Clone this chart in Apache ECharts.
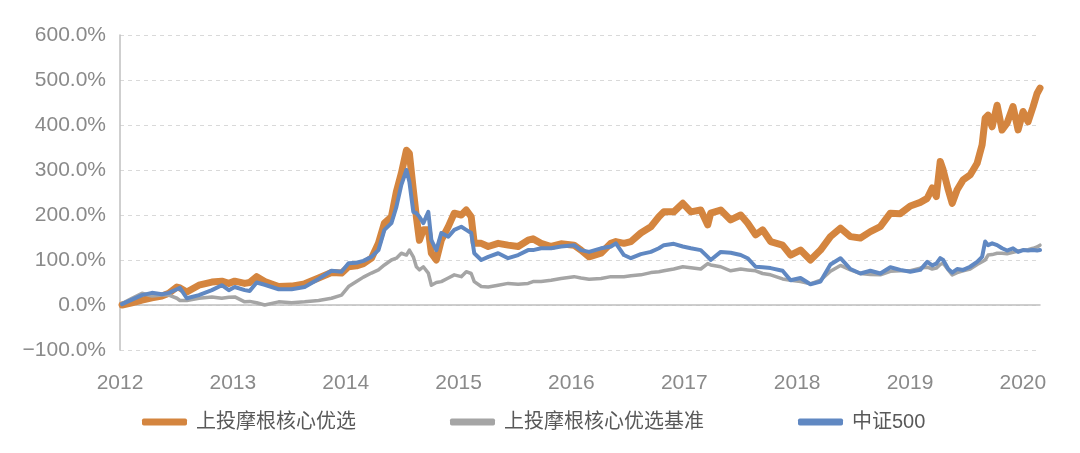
<!DOCTYPE html>
<html>
<head>
<meta charset="utf-8">
<script src="https://cdn.jsdelivr.net/npm/echarts@6/dist/echarts.min.js"></script>
<style>
html,body{margin:0;padding:0;background:#fff;}
#chart{width:1080px;height:453px;}
</style>
</head>
<body>
<div id="chart"></div>
<script>
// decimal years
const dates = [2012.018,2012.106,2012.195,2012.283,2012.371,2012.433,2012.504,2012.531,2012.592,2012.699,2012.814,2012.902,2012.964,2013.017,2013.105,2013.149,2013.211,2013.282,2013.406,2013.521,2013.636,2013.760,2013.874,2013.963,2014.025,2014.095,2014.157,2014.228,2014.290,2014.343,2014.405,2014.449,2014.493,2014.538,2014.564,2014.599,2014.626,2014.653,2014.688,2014.732,2014.759,2014.803,2014.847,2014.909,2014.962,2015.024,2015.068,2015.112,2015.139,2015.201,2015.263,2015.351,2015.439,2015.528,2015.616,2015.660,2015.731,2015.820,2015.908,2016.023,2016.085,2016.156,2016.262,2016.350,2016.394,2016.465,2016.527,2016.615,2016.704,2016.775,2016.819,2016.907,2016.987,2017.058,2017.146,2017.208,2017.234,2017.323,2017.411,2017.500,2017.561,2017.632,2017.694,2017.765,2017.871,2017.942,2018.030,2018.118,2018.207,2018.295,2018.384,2018.472,2018.561,2018.649,2018.737,2018.826,2018.914,2019.003,2019.091,2019.153,2019.197,2019.233,2019.268,2019.294,2019.339,2019.374,2019.418,2019.471,2019.533,2019.595,2019.639,2019.666,2019.692,2019.728,2019.772,2019.816,2019.860,2019.913,2019.958,2020.002,2020.046,2020.090,2020.126,2020.152];

// 上投摩根核心优选 (%)
const fundValues = [0,5,11,16,20,26,40,38,29,44,51,53,48,53,48,50,63,52,41,42,47,60,72,71,85,87,92,104,137,182,196,252,293,344,337,256,196,144,167,167,115,100,144,174,204,200,211,196,137,137,130,137,133,130,144,147,137,130,136,133,122,107,115,137,141,137,141,160,174,196,207,207,226,207,211,178,204,211,189,200,182,156,167,141,133,111,122,100,122,152,171,152,149,163,174,204,203,220,228,237,260,241,319,300,256,226,256,278,289,315,356,415,422,396,444,389,404,441,389,430,407,440,470,482];

// 上投摩根核心优选基准 (%)
const benchValues = [3,15,26,20,22,22,15,10,10,15,18,15,17,18,7,8,5,0,7,5,7,10,15,22,41,52,62,71,78,89,100,104,115,111,122,107,85,78,85,71,44,50,52,60,67,63,74,70,52,41,40,44,48,46,48,52,52,55,59,63,60,57,59,63,63,63,65,67,72,74,76,80,85,83,80,92,89,85,76,80,78,76,70,67,58,55,52,47,55,75,88,78,70,68,67,75,76,76,82,84,80,82,90,93,78,67,72,76,80,90,96,100,111,112,115,115,114,117,120,122,123,126,129,133];

// 中证500 (%)
const csi500Values = [2,12,22,27,24,27,35,38,15,22,33,44,33,40,33,31,50,45,35,35,40,58,76,74,93,94,98,107,122,167,182,218,267,300,274,207,204,196,182,207,144,122,160,152,167,174,167,160,115,100,107,115,104,111,122,122,126,126,130,133,122,118,126,130,137,111,104,113,118,126,133,136,130,126,122,107,100,118,116,111,104,85,84,82,76,55,60,46,52,90,104,80,70,76,70,84,78,74,78,96,88,92,104,100,80,72,80,78,85,96,107,141,133,137,133,126,121,126,118,122,121,122,121,122];

const seriesNames = ['上投摩根核心优选','上投摩根核心优选基准','中证500'];
const colors = ['#D4853F','#A5A5A5','#6088C2'];

function pairs(vals){ return dates.map((d,i)=>[d, vals[i]]); }

const chart = echarts.init(document.getElementById('chart'), null, {renderer:'canvas'});
const font = '"Liberation Sans", Arial, "Noto Sans CJK SC", sans-serif';
chart.setOption({
  animation:false,
  backgroundColor:'#fff',
  textStyle:{fontFamily:font},
  grid:{left:120,right:40,top:35,bottom:103,containLabel:false},
  legend:{
    left:137, top:407,
    itemWidth:45, itemHeight:7, itemGap:94,
    icon:'roundRect',
    textStyle:{fontSize:20,color:'#595959',fontFamily:font,padding:[0,0,0,4]},
    data:seriesNames
  },
  xAxis:{
    type:'value', min:2012, max:2020.152, interval:1,
    axisLine:{show:true,lineStyle:{color:'#BFBFBF',width:1.5}},
    axisTick:{show:false},
    splitLine:{show:false},
    axisLabel:{
      color:'#8A8A8A',fontSize:21,fontFamily:font,margin:23,
      formatter:function(v){ return Math.abs(v-Math.round(v))<1e-6 ? String(Math.round(v)) : ''; }
    }
  },
  yAxis:{
    type:'value', min:-100, max:600, interval:100,
    axisLine:{show:true,lineStyle:{color:'#BFBFBF',width:1.5}},
    axisTick:{show:false},
    splitLine:{show:true,lineStyle:{color:'#D9D9D9',type:[4,4],width:1}},
    axisLabel:{
      color:'#8A8A8A',fontSize:21,fontFamily:font,margin:14,
      formatter:function(v){ return (v<0?'\u2212':'') + Math.abs(v).toFixed(1)+'%'; }
    }
  },
  series:[
    {name:seriesNames[0],type:'line',data:pairs(fundValues),showSymbol:false,symbol:'none',z:2,
     lineStyle:{color:colors[0],width:7,cap:'round',join:'round'},itemStyle:{color:colors[0]}},
    {name:seriesNames[1],type:'line',data:pairs(benchValues),showSymbol:false,symbol:'none',z:3,
     lineStyle:{color:colors[1],width:3.5,cap:'round',join:'round'},itemStyle:{color:colors[1]}},
    {name:seriesNames[2],type:'line',data:pairs(csi500Values),showSymbol:false,symbol:'none',z:4,
     lineStyle:{color:colors[2],width:4,cap:'round',join:'round'},itemStyle:{color:colors[2]}}
  ]
});
</script>
</body>
</html>
